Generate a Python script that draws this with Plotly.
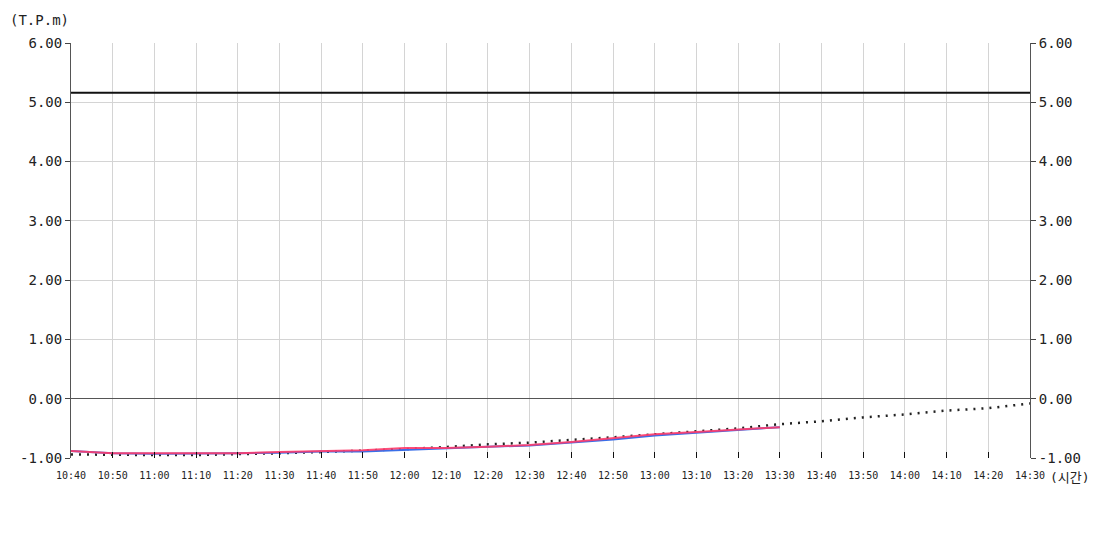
import plotly.graph_objects as go

times = ["10:40", "10:50", "11:00", "11:10", "11:20", "11:30", "11:40", "11:50",
         "12:00", "12:10", "12:20", "12:30", "12:40", "12:50", "13:00", "13:10",
         "13:20", "13:30", "13:40", "13:50", "14:00", "14:10", "14:20", "14:30"]

red_vals = [-0.88, -0.92, -0.92, -0.92, -0.92, -0.90, -0.88, -0.87, -0.83, -0.83,
            -0.81, -0.78, -0.73, -0.66, -0.60, -0.56, -0.52, -0.48]
blue_vals = [-0.88, -0.92, -0.93, -0.93, -0.92, -0.91, -0.89, -0.89, -0.86, -0.83,
             -0.81, -0.79, -0.74, -0.69, -0.62, -0.57, -0.53, -0.48]
dot_vals = [-0.94, -0.95, -0.95, -0.95, -0.94, -0.92, -0.90, -0.88, -0.85, -0.815,
            -0.77, -0.74, -0.70, -0.65, -0.60, -0.55, -0.50, -0.43, -0.38, -0.315,
            -0.265, -0.20, -0.16, -0.08]
limit_val = 5.16

x = ["2024-01-01 " + t for t in times]
mono = "DejaVu Sans Mono, Noto Sans CJK KR"

fig = go.Figure()

fig.add_trace(go.Scatter(x=x, y=dot_vals, mode="lines",
                         line=dict(color="#222222", width=2.5, dash="2px,6px"),
                         showlegend=False))
fig.add_trace(go.Scatter(x=x[:len(blue_vals)], y=blue_vals, mode="lines",
                         line=dict(color="#3a6fe8", width=2),
                         showlegend=False))
fig.add_trace(go.Scatter(x=x[:len(red_vals)], y=red_vals, mode="lines",
                         line=dict(color="#ff3b6b", width=2),
                         opacity=0.9, showlegend=False))
fig.add_trace(go.Scatter(x=[x[0], x[-1]], y=[limit_val, limit_val], mode="lines",
                         line=dict(color="#111111", width=2),
                         yaxis="y2", showlegend=False))

yticks = [-1, 0, 1, 2, 3, 4, 5, 6]
ytext = ["%.2f" % v for v in yticks]

common_y = dict(range=[-1, 6], tickvals=yticks, ticktext=ytext,
                ticks="outside", ticklen=5, tickcolor="#444",
                showline=True, linecolor="#555", linewidth=1,
                tickfont=dict(family=mono, size=14, color="#222"))

# page body has an 8px margin, so the margins are shifted to compensate
fig.update_layout(
    width=1100, height=550,
    margin=dict(l=63, r=78, t=35, b=100, autoexpand=False),
    plot_bgcolor="white", paper_bgcolor="white",
    xaxis=dict(type="date", range=[x[0], x[-1]],
               tickvals=x, ticktext=times,
               ticks="inside", ticklen=6, tickcolor="#111",
               ticklabelstandoff=10,
               showgrid=True, gridcolor="#d4d4d4", gridwidth=1,
               showline=False, zeroline=False,
               tickfont=dict(family=mono, size=10, color="#222")),
    yaxis=dict(**common_y, showgrid=True, gridcolor="#d4d4d4",
               zeroline=True, zerolinecolor="#555", zerolinewidth=1),
    yaxis2=dict(**common_y, overlaying="y", side="right", showgrid=False,
                zeroline=False),
    annotations=[
        dict(text="(T.P.m)", x=-0.066, y=1.055, xref="paper", yref="paper",
             xanchor="left", yanchor="middle", showarrow=False,
             font=dict(family=mono, size=14, color="#222")),
        dict(text="(시간)", x=1.0, y=-0.046, xref="paper", yref="paper",
             xanchor="left", yanchor="middle", xshift=18, showarrow=False,
             font=dict(family=mono, size=13, color="#222")),
    ],
)

fig.write_html("out.html")
